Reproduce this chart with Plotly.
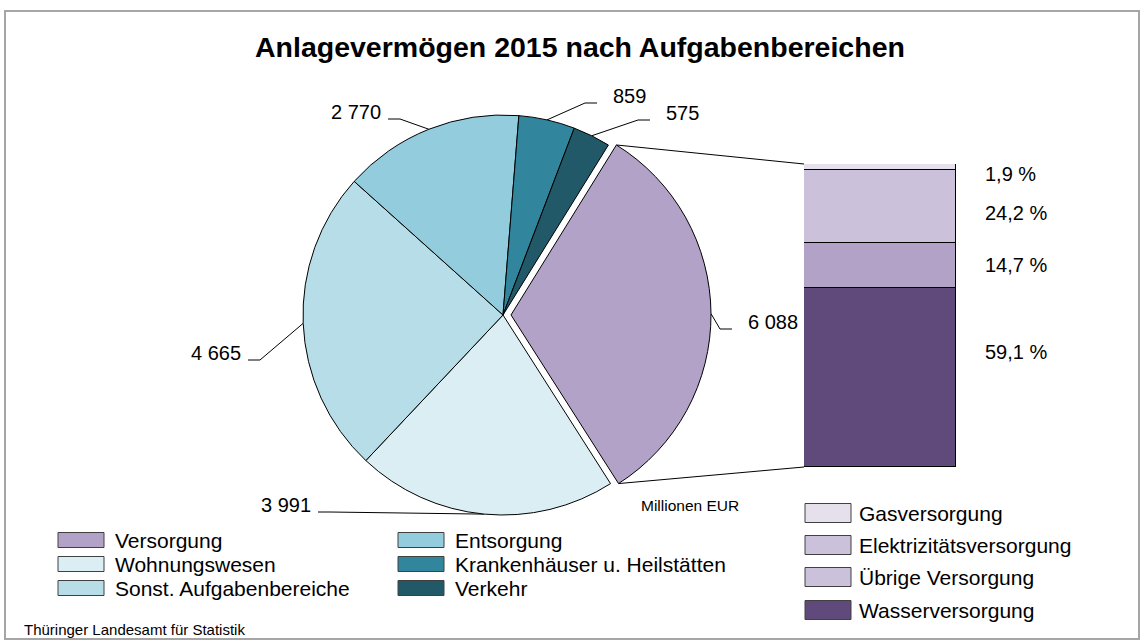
import numpy as np
import plotly.graph_objects as go

# Daten: Anlagevermögen 2015 (Millionen EUR)
bereiche = ['Versorgung', 'Wohnungswesen', 'Sonst. Aufgabenbereiche',
            'Entsorgung', 'Krankenhäuser u. Heilstätten', 'Verkehr']
werte = [6088, 3991, 4665, 2770, 859, 575]
wert_texte = ['6 088', '3 991', '4 665', '2 770', '859', '575']

# Aufteilung der Versorgung (Prozent), von unten nach oben
versorgung_arten = ['Wasserversorgung', 'Übrige Versorgung', 'Elektrizitätsversorgung', 'Gasversorgung']
versorgung_anteile = [59.1, 14.7, 24.2, 1.9]
anteil_texte = ['59,1 %', '14,7 %', '24,2 %', '1,9 %']

# Farben
pie_farben = ['#b3a2c7', '#dbeef4', '#b7dee8', '#93cddd', '#31859c', '#215968']
bar_farben = ['#604a7b', '#b3a2c7', '#ccc1da', '#e5e0ec']

FONT = 'Liberation Sans, Arial, sans-serif'
W, H = 1144, 642

# Geometrie (Pixel)
CX, CY, R = 503, 315, 200
PULL = 0.04
ROTATION = 31.8
BAR_X0, BAR_X1, BAR_Y0, BAR_Y1 = 804, 956, 164, 467


def punkt(winkel, radius, cx=CX, cy=CY):
    a = np.radians(winkel)
    return cx + radius * np.sin(a), cy - radius * np.cos(a)


fig = go.Figure()

# Kreisdiagramm
fig.add_trace(go.Pie(
    labels=bereiche,
    values=werte,
    sort=False,
    direction='clockwise',
    rotation=ROTATION,
    pull=[PULL, 0, 0, 0, 0, 0],
    textinfo='none',
    hoverinfo='label+value',
    showlegend=False,
    marker=dict(colors=pie_farben, line=dict(color='black', width=1)),
    domain=dict(
        x=[(CX - R * (1 + PULL)) / W, (CX + R * (1 + PULL)) / W],
        y=[(H - CY - R * (1 + PULL)) / H, (H - CY + R * (1 + PULL)) / H],
    ),
))

# gestapelte Säule
for name, wert, farbe in zip(versorgung_arten, versorgung_anteile, bar_farben):
    fig.add_trace(go.Bar(
        x=['Versorgung'], y=[wert], name=name,
        marker=dict(color=farbe, line=dict(color='black', width=1)),
        xaxis='x2', yaxis='y2', showlegend=False,
        hovertemplate=name + ': %{y} %<extra></extra>',
    ))

# Winkel der Segmente
gesamt = sum(werte)
kum = np.cumsum([0] + werte)
start = [ROTATION + 360 * kum[i] / gesamt for i in range(len(werte))]
ende = [ROTATION + 360 * kum[i + 1] / gesamt for i in range(len(werte))]
mitte = [(s + e) / 2 for s, e in zip(start, ende)]

# Zentrum des herausgezogenen Segments
pcx, pcy = punkt(mitte[0], PULL * R)

# Beschriftungen mit Führungslinien
anker = [(732, 329), (318, 512), (248, 360), (388, 119), (597, 103), (650, 120)]
annotations = []
for i, (ax, ay) in enumerate(anker):
    if i == 0:
        ex, ey = punkt(mitte[i], R, pcx, pcy)
    else:
        ex, ey = punkt(mitte[i], R)
    seite = 1 if ax > ex else -1
    fig.add_trace(go.Scatter(
        x=[ax, ax - 12 * seite, ex], y=[ay, ay, ey],
        mode='lines', line=dict(color='black', width=1),
        xaxis='x3', yaxis='y3', showlegend=False, hoverinfo='skip',
    ))
    annotations.append(dict(
        x=ax + (14 if seite > 0 else -5), y=ay - 7, xref='x3', yref='y3',
        text=wert_texte[i], showarrow=False,
        xanchor='left' if seite > 0 else 'right', yanchor='middle',
        font=dict(size=20, color='black', family=FONT),
    ))

# Verbindungslinien zur Säule
sx, sy = punkt(start[0], R, pcx, pcy)
tx, ty = punkt(ende[0], R, pcx, pcy)
for px, py, bx, by in [(sx, sy, BAR_X0, BAR_Y0), (tx, ty, BAR_X0, BAR_Y1)]:
    fig.add_trace(go.Scatter(
        x=[px, bx], y=[py, by], mode='lines', line=dict(color='black', width=1),
        xaxis='x3', yaxis='y3', showlegend=False, hoverinfo='skip',
    ))

# Prozentwerte neben der Säule
verschiebung = [25, 0, -7, -7]
kum_bar = np.cumsum([0] + versorgung_anteile)
for i, txt in enumerate(anteil_texte):
    annotations.append(dict(
        x=983, xref='x3', y=(kum_bar[i] + kum_bar[i + 1]) / 2, yref='y2',
        yshift=verschiebung[i], text=txt, showarrow=False,
        xanchor='left', yanchor='middle',
        font=dict(size=20, color='black', family=FONT),
    ))

# Legenden (manuell)
shapes = []
links_legende = [(0, 58, 540), (1, 58, 564), (2, 58, 588),
                 (3, 398, 540), (4, 398, 564), (5, 398, 588)]
for i, lx, ly in links_legende:
    shapes.append(dict(type='rect', xref='x3', yref='y3', x0=lx, x1=lx + 46,
                       y0=ly - 7.5, y1=ly + 7.5, fillcolor=pie_farben[i],
                       line=dict(color='#404040', width=1)))
    annotations.append(dict(x=lx + 55, y=ly, xref='x3', yref='y3', text=bereiche[i],
                            showarrow=False, xanchor='left', yanchor='middle',
                            font=dict(size=21, color='black', family=FONT)))

rechts_namen = ['Gasversorgung', 'Elektrizitätsversorgung', 'Übrige Versorgung', 'Wasserversorgung']
rechts_farben = ['#e5e0ec', '#ccc1da', '#ccc1da', '#604a7b']
rechts_y = [513, 545, 577, 610]
for name, farbe, ly in zip(rechts_namen, rechts_farben, rechts_y):
    shapes.append(dict(type='rect', xref='x3', yref='y3', x0=805, x1=851,
                       y0=ly - 9.5, y1=ly + 9.5, fillcolor=farbe,
                       line=dict(color='#404040', width=1)))
    annotations.append(dict(x=857, y=ly, xref='x3', yref='y3', text=name,
                            showarrow=False, xanchor='left', yanchor='middle',
                            font=dict(size=21, color='black', family=FONT)))

# Rahmen
shapes.append(dict(type='rect', xref='x3', yref='y3', x0=5, x1=1139, y0=11, y1=639,
                   line=dict(color='#a6a6a6', width=2), layer='below'))

annotations.append(dict(x=580, y=47, xref='x3', yref='y3',
                        text='<b>Anlagevermögen 2015 nach Aufgabenbereichen</b>',
                        showarrow=False, xanchor='center', yanchor='middle',
                        font=dict(size=28.5, color='black', family=FONT)))
annotations.append(dict(x=690, y=505, xref='x3', yref='y3', text='Millionen EUR',
                        showarrow=False, xanchor='center', yanchor='middle',
                        font=dict(size=15.5, color='black', family=FONT)))
annotations.append(dict(x=22, y=629, xref='x3', yref='y3',
                        text='Thüringer Landesamt für Statistik',
                        showarrow=False, xanchor='left', yanchor='middle',
                        font=dict(size=15, color='black', family=FONT)))

fig.update_layout(
    width=W, height=H,
    margin=dict(l=0, r=0, t=0, b=0),
    paper_bgcolor='white',
    plot_bgcolor='rgba(0,0,0,0)',
    barmode='stack',
    bargap=0,
    xaxis2=dict(domain=[BAR_X0 / W, BAR_X1 / W], range=[-0.5, 0.5], visible=False,
                anchor='y2', fixedrange=True),
    yaxis2=dict(domain=[(H - BAR_Y1) / H, (H - BAR_Y0) / H], range=[0, sum(versorgung_anteile)],
                visible=False, anchor='x2', fixedrange=True),
    xaxis3=dict(domain=[0, 1], range=[0, W], visible=False, anchor='y3', fixedrange=True),
    yaxis3=dict(domain=[0, 1], range=[H, 0], visible=False, anchor='x3', fixedrange=True),
    shapes=shapes,
    annotations=annotations,
    showlegend=False,
)

fig.write_html("out.html", config={'displayModeBar': False},
               post_script="document.body.style.margin='0';")
